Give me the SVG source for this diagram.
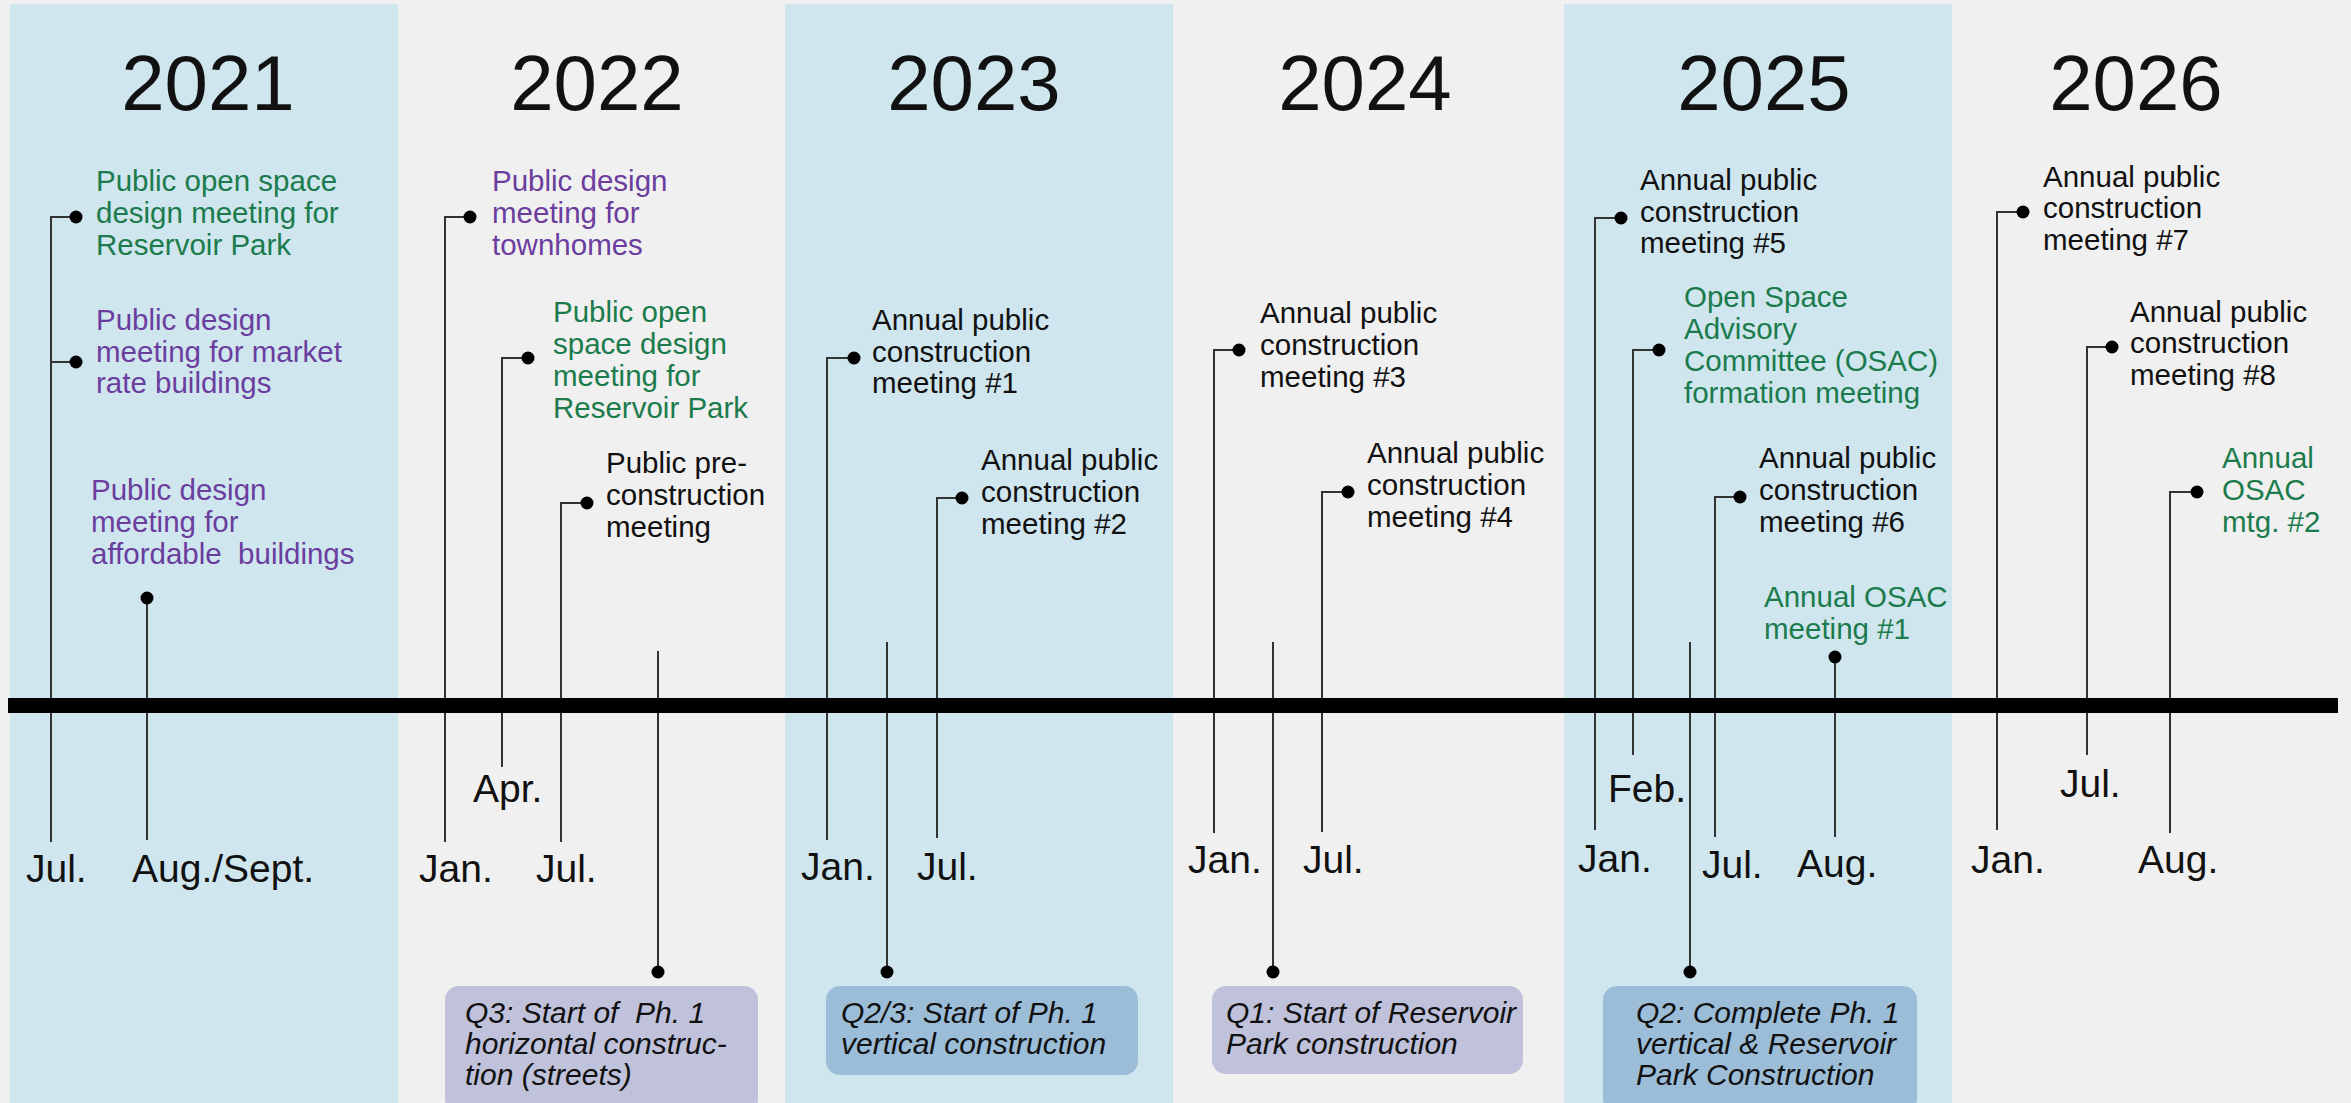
<svg xmlns="http://www.w3.org/2000/svg" width="2351" height="1103" viewBox="0 0 2351 1103">
<style>
.t{font-family:"Liberation Sans",Arial,sans-serif;font-size:29.5px}
.g{fill:#1b7b4c}
.p{fill:#6a3d9e}
.k{fill:#111}
.yr{font-family:"Liberation Sans",Arial,sans-serif;font-size:78px;fill:#111;text-anchor:middle}
.mo{font-family:"Liberation Sans",Arial,sans-serif;font-size:39px;fill:#111}
.bx{font-family:"Liberation Sans",Arial,sans-serif;font-size:30px;font-style:italic;fill:#111}
.ln{stroke:#333;stroke-width:2;fill:none}
.dot{fill:#000}
.bp{fill:#bfc2da}
.bb{fill:#9cbdd8}
</style>
<rect x="0" y="0" width="2351" height="1103" fill="#f0f0f0"/>
<g id="bands" fill="#cfe6ef">
<rect x="10" y="4" width="388" height="1099"/>
<rect x="785" y="4" width="388" height="1099"/>
<rect x="1564" y="4" width="388" height="1099"/>
</g>
<g id="years">
<text class="yr" x="208" y="110">2021</text>
<text class="yr" x="597" y="110">2022</text>
<text class="yr" x="974" y="110">2023</text>
<text class="yr" x="1365" y="110">2024</text>
<text class="yr" x="1764" y="110">2025</text>
<text class="yr" x="2136" y="110">2026</text>
</g>
<g id="connectors">
<path class="ln" d="M51 842V217H76M51 362H76"/>
<path class="ln" d="M147 840V598"/>
<path class="ln" d="M445 842V217H470"/>
<path class="ln" d="M502 767V358H528"/>
<path class="ln" d="M561 842V503H587"/>
<path class="ln" d="M658 651V972"/>
<path class="ln" d="M827 840V358H854"/>
<path class="ln" d="M887 642V972"/>
<path class="ln" d="M937 838V498H962"/>
<path class="ln" d="M1214 833V350H1239"/>
<path class="ln" d="M1273 642V972"/>
<path class="ln" d="M1322 832V492H1348"/>
<path class="ln" d="M1595 830V218H1621"/>
<path class="ln" d="M1633 755V350H1659"/>
<path class="ln" d="M1690 642V972"/>
<path class="ln" d="M1715 837V497H1740"/>
<path class="ln" d="M1835 837V657"/>
<path class="ln" d="M1997 830V212H2023"/>
<path class="ln" d="M2087 755V347H2112"/>
<path class="ln" d="M2170 833V492H2197"/>
<g class="dot">
<circle cx="76" cy="217" r="6.5"/><circle cx="76" cy="362" r="6.5"/><circle cx="147" cy="598" r="6.5"/>
<circle cx="470" cy="217" r="6.5"/><circle cx="528" cy="358" r="6.5"/><circle cx="587" cy="503" r="6.5"/>
<circle cx="854" cy="358" r="6.5"/><circle cx="962" cy="498" r="6.5"/>
<circle cx="1239" cy="350" r="6.5"/><circle cx="1348" cy="492" r="6.5"/>
<circle cx="1621" cy="218" r="6.5"/><circle cx="1659" cy="350" r="6.5"/><circle cx="1740" cy="497" r="6.5"/><circle cx="1835" cy="657" r="6.5"/>
<circle cx="2023" cy="212" r="6.5"/><circle cx="2112" cy="347" r="6.5"/><circle cx="2197" cy="492" r="6.5"/>
<circle cx="658" cy="972" r="6.5"/><circle cx="887" cy="972" r="6.5"/><circle cx="1273" cy="972" r="6.5"/><circle cx="1690" cy="972" r="6.5"/>
</g>
</g>
<rect id="timeline" x="8" y="698" width="2330" height="15" fill="#000"/>
<g id="months">
<text class="mo" x="26" y="882">Jul.</text>
<text class="mo" x="132" y="882">Aug./Sept.</text>
<text class="mo" x="419" y="882">Jan.</text>
<text class="mo" x="473" y="802">Apr.</text>
<text class="mo" x="536" y="882">Jul.</text>
<text class="mo" x="801" y="880">Jan.</text>
<text class="mo" x="917" y="880">Jul.</text>
<text class="mo" x="1188" y="873">Jan.</text>
<text class="mo" x="1303" y="873">Jul.</text>
<text class="mo" x="1578" y="872">Jan.</text>
<text class="mo" x="1608" y="802">Feb.</text>
<text class="mo" x="1702" y="878">Jul.</text>
<text class="mo" x="1797" y="877">Aug.</text>
<text class="mo" x="1971" y="873">Jan.</text>
<text class="mo" x="2060" y="797">Jul.</text>
<text class="mo" x="2138" y="873">Aug.</text>
</g>
<g id="ev2021a"><text class="t g" x="96" y="191">Public open space</text><text class="t g" x="96" y="223">design meeting for</text><text class="t g" x="96" y="255">Reservoir Park</text></g>
<g id="ev2021b"><text class="t p" x="96" y="330">Public design</text><text class="t p" x="96" y="362">meeting for market</text><text class="t p" x="96" y="393">rate buildings</text></g>
<g id="ev2021c"><text class="t p" x="91" y="500">Public design</text><text class="t p" x="91" y="532">meeting for</text><text class="t p" x="91" y="564" xml:space="preserve">affordable  buildings</text></g>
<g id="ev2022a"><text class="t p" x="492" y="191">Public design</text><text class="t p" x="492" y="223">meeting for</text><text class="t p" x="492" y="255">townhomes</text></g>
<g id="ev2022b"><text class="t g" x="553" y="322">Public open</text><text class="t g" x="553" y="354">space design</text><text class="t g" x="553" y="386">meeting for</text><text class="t g" x="553" y="418">Reservoir Park</text></g>
<g id="ev2022c"><text class="t k" x="606" y="473">Public pre-</text><text class="t k" x="606" y="505">construction</text><text class="t k" x="606" y="537">meeting</text></g>
<g id="ev2023a"><text class="t k" x="872" y="330">Annual public</text><text class="t k" x="872" y="362">construction</text><text class="t k" x="872" y="393">meeting #1</text></g>
<g id="ev2023b"><text class="t k" x="981" y="470">Annual public</text><text class="t k" x="981" y="502">construction</text><text class="t k" x="981" y="534">meeting #2</text></g>
<g id="ev2024a"><text class="t k" x="1260" y="323">Annual public</text><text class="t k" x="1260" y="355">construction</text><text class="t k" x="1260" y="387">meeting #3</text></g>
<g id="ev2024b"><text class="t k" x="1367" y="463">Annual public</text><text class="t k" x="1367" y="495">construction</text><text class="t k" x="1367" y="527">meeting #4</text></g>
<g id="ev2025a"><text class="t k" x="1640" y="190">Annual public</text><text class="t k" x="1640" y="222">construction</text><text class="t k" x="1640" y="253">meeting #5</text></g>
<g id="ev2025b"><text class="t g" x="1684" y="307">Open Space</text><text class="t g" x="1684" y="339">Advisory</text><text class="t g" x="1684" y="371">Committee (OSAC)</text><text class="t g" x="1684" y="403">formation meeting</text></g>
<g id="ev2025c"><text class="t k" x="1759" y="468">Annual public</text><text class="t k" x="1759" y="500">construction</text><text class="t k" x="1759" y="532">meeting #6</text></g>
<g id="ev2025d"><text class="t g" x="1764" y="607">Annual OSAC</text><text class="t g" x="1764" y="639">meeting #1</text></g>
<g id="ev2026a"><text class="t k" x="2043" y="187">Annual public</text><text class="t k" x="2043" y="218">construction</text><text class="t k" x="2043" y="250">meeting #7</text></g>
<g id="ev2026b"><text class="t k" x="2130" y="322">Annual public</text><text class="t k" x="2130" y="353">construction</text><text class="t k" x="2130" y="385">meeting #8</text></g>
<g id="ev2026c"><text class="t g" x="2222" y="468">Annual</text><text class="t g" x="2222" y="500">OSAC</text><text class="t g" x="2222" y="532">mtg. #2</text></g>
<g id="ms2022"><rect class="bp" x="445" y="986" width="313" height="127" rx="14"/><text class="bx" x="465" y="1023" xml:space="preserve">Q3: Start of  Ph. 1</text><text class="bx" x="465" y="1054">horizontal construc-</text><text class="bx" x="465" y="1085">tion (streets)</text></g>
<g id="ms2023"><rect class="bb" x="826" y="986" width="312" height="89" rx="14"/><text class="bx" x="841" y="1023">Q2/3: Start of Ph. 1</text><text class="bx" x="841" y="1054">vertical construction</text></g>
<g id="ms2024"><rect class="bp" x="1212" y="986" width="311" height="88" rx="14"/><text class="bx" x="1226" y="1023">Q1: Start of Reservoir</text><text class="bx" x="1226" y="1054">Park construction</text></g>
<g id="ms2025"><rect class="bb" x="1603" y="986" width="314" height="127" rx="14"/><text class="bx" x="1636" y="1023">Q2: Complete Ph. 1</text><text class="bx" x="1636" y="1054">vertical &amp; Reservoir</text><text class="bx" x="1636" y="1085">Park Construction</text></g>
</svg>
